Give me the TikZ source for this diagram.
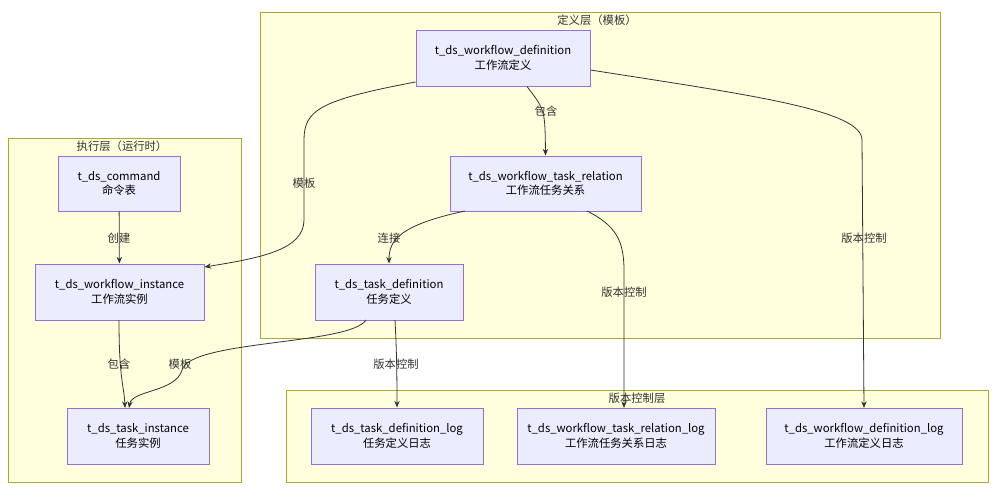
\documentclass[tikz,border=0pt]{standalone}
\usepackage{fontspec}
\setmainfont{Noto Sans CJK SC}
\usetikzlibrary{arrows.meta}
\definecolor{nfill}{HTML}{ECECFF}
\definecolor{nstroke}{HTML}{9370DB}
\definecolor{cfill}{HTML}{FFFFDE}
\definecolor{cstroke}{HTML}{AAAA33}
\definecolor{ecol}{HTML}{333333}
\begin{document}
\begin{tikzpicture}[x=0.75pt,y=-0.75pt,
  cl/.style={draw=cstroke,fill=cfill,line width=0.75pt},
  ct/.style={font=\fontsize{8.5}{10}\selectfont,text=ecol},
  nd/.style={draw=nstroke,fill=nfill,line width=0.75pt,align=center,font=\fontsize{8.5}{11}\selectfont,text=black,inner sep=0pt},
  ed/.style={draw=ecol,line width=0.6pt,-{Stealth[length=5pt,width=4pt]}},
  lb/.style={font=\fontsize{8.5}{10}\selectfont,text=ecol,fill=white,fill opacity=0,text opacity=1}]
\useasboundingbox (0,0) rectangle (997,493);
\fill[white] (0,0) rectangle (997,493);
\draw[cl] (260,12) rectangle (940,338);
\node[ct] (t1) at (597,20) {定义层（模板）};
\draw[cl] (8,138) rectangle (241,482);
\node[ct] (t2) at (122,146) {执行层（运行时）};
\draw[cl] (286,390) rectangle (988,482);
\node[ct] (t3) at (637,398) {版本控制层};
\node[nd,minimum width=174*0.75pt,minimum height=56*0.75pt] (wd) at (503,58) {t\_ds\_workflow\_definition\\工作流定义};
\node[nd,minimum width=191*0.75pt,minimum height=55*0.75pt] (wtr) at (545.5,183.5) {t\_ds\_workflow\_task\_relation\\工作流任务关系};
\node[nd,minimum width=148*0.75pt,minimum height=56*0.75pt] (td) at (389,292) {t\_ds\_task\_definition\\任务定义};
\node[nd,minimum width=122*0.75pt,minimum height=55*0.75pt] (cmd) at (119,183.5) {t\_ds\_command\\命令表};
\node[nd,minimum width=169*0.75pt,minimum height=56*0.75pt] (wi) at (119.5,292) {t\_ds\_workflow\_instance\\工作流实例};
\node[nd,minimum width=142*0.75pt,minimum height=56*0.75pt] (ti) at (138,436) {t\_ds\_task\_instance\\任务实例};
\node[nd,minimum width=172*0.75pt,minimum height=56*0.75pt] (tdl) at (397,436) {t\_ds\_task\_definition\_log\\任务定义日志};
\node[nd,minimum width=198*0.75pt,minimum height=56*0.75pt] (wtrl) at (616,436) {t\_ds\_workflow\_task\_relation\_log\\工作流任务关系日志};
\node[nd,minimum width=196*0.75pt,minimum height=56*0.75pt] (wdl) at (864,436) {t\_ds\_workflow\_definition\_log\\工作流定义日志};
% edges
\draw[ed] (wd.south) ++(24,0) coordinate (a1) .. controls (545,110) and (545,110) .. (wtr.north);
\node[lb] at (546,111) {包含};
\draw[ed] (wd.west|-0,82) .. controls (320,100) and (304,110) .. (304,140) -- (304,220) .. controls (304,250) and (260,258) .. (wi.east|-0,267);
\node[lb] at (304,183) {模板};
\draw[ed] (wd.east|-0,70) .. controls (750,95) and (862,110) .. (862,140) -- (864,408);
\node[lb] at (864,238) {版本控制};
\draw[ed] (465,211) .. controls (400,225) and (389,240) .. (td.north);
\node[lb] at (389,238) {连接};
\draw[ed] (587,211) .. controls (615,225) and (624,240) .. (624,270) -- (624,408);
\node[lb] at (624,292) {版本控制};
\draw[ed] (395,320) .. controls (396,340) and (397,360) .. (tdl.north);
\node[lb] at (396,364) {版本控制};
\draw[ed] (119,320) .. controls (119,380) and (124,385) .. (125,408);
\node[lb] at (119,364) {包含};
\draw[ed] (366,320) .. controls (350,345) and (190,340) .. (182,370) .. controls (176,392) and (132,390) .. (129,408);
\node[lb] at (180,364) {模板};
\draw[ed] (cmd) -- (wi);
\node[lb] at (119,238) {创建};
\end{tikzpicture}
\end{document}
